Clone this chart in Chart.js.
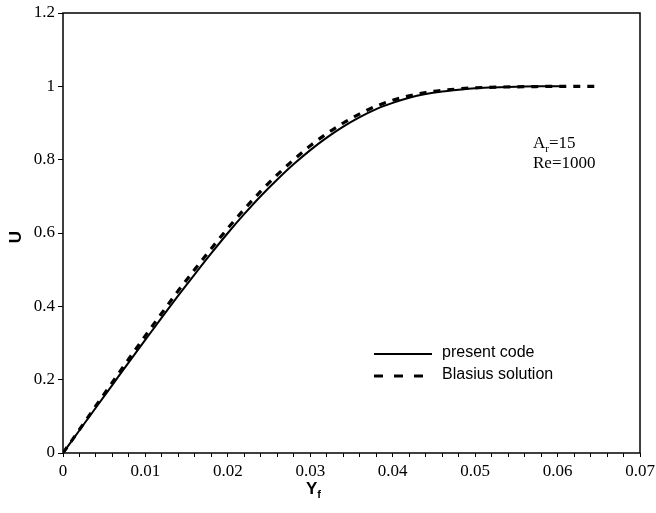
<!DOCTYPE html>
<html><head><meta charset="utf-8">
<script src="https://cdn.jsdelivr.net/npm/chart.js@4"></script>
<style>html,body{margin:0;padding:0;background:#fff}</style>
</head><body>
<canvas id="c" width="656" height="513"></canvas>
<script>
// ---- data ----
const yfPresent = [0,0.002,0.004,0.006,0.008,0.010,0.012,0.014,0.016,0.018,0.020,0.022,0.024,0.026,0.028,0.030,0.032,0.034,0.036,0.038,0.040,0.042,0.044,0.046,0.048,0.050,0.052,0.055,0.058,0.061];
const uPresent  = [0,0.062,0.124,0.186,0.248,0.309,0.370,0.430,0.488,0.545,0.600,0.652,0.701,0.746,0.788,0.826,0.860,0.890,0.916,0.938,0.955,0.969,0.979,0.986,0.991,0.995,0.997,0.999,1.0,1.0];
const yfBlasius = [0,0.002,0.004,0.006,0.008,0.010,0.012,0.014,0.016,0.018,0.020,0.022,0.024,0.026,0.028,0.030,0.032,0.034,0.036,0.038,0.040,0.042,0.044,0.046,0.048,0.050,0.053,0.056,0.060,0.065];
const uBlasius  = [0,0.064,0.129,0.193,0.257,0.320,0.382,0.443,0.501,0.558,0.613,0.665,0.714,0.759,0.800,0.838,0.871,0.900,0.925,0.946,0.962,0.974,0.983,0.989,0.993,0.996,0.998,0.999,1.0,1.0];
const seriesNames = ['present code','Blasius solution'];
const xTickLabels = ['0','0.01','0.02','0.03','0.04','0.05','0.06','0.07'];
const yTickLabels = ['0','0.2','0.4','0.6','0.8','1','1.2'];

const toPts = (xs, ys) => xs.map((x, i) => ({x, y: ys[i]}));
const serif = "'Liberation Serif','Times New Roman',serif";
const sans = "'Liberation Sans',Arial,sans-serif";
const legendDash = [[], [9, 11]];

const extras = {
  id: 'extras',
  afterDraw(chart) {
    const ctx = chart.ctx, a = chart.chartArea;
    ctx.save();
    // frame
    ctx.strokeStyle = '#000'; ctx.lineWidth = 1.5;
    ctx.strokeRect(a.left, a.top, a.right - a.left, a.bottom - a.top);
    ctx.fillStyle = '#000';
    // y title
    ctx.save();
    ctx.translate(16, 237); ctx.rotate(-Math.PI / 2);
    ctx.font = 'bold 17px ' + sans; ctx.textAlign = 'center'; ctx.textBaseline = 'middle';
    ctx.fillText('U', 0, 0);
    ctx.restore();
    // x title Y_f
    ctx.font = 'bold 17px ' + sans; ctx.textAlign = 'left'; ctx.textBaseline = 'alphabetic';
    const xt = 306, yt = 494;
    ctx.fillText('Y', xt, yt);
    const wY = ctx.measureText('Y').width;
    ctx.font = 'bold 11px ' + sans;
    ctx.fillText('f', xt + wY, yt + 4);
    // annotation
    ctx.font = '17px ' + serif;
    ctx.fillText('A', 533, 148);
    const wA = ctx.measureText('A').width;
    ctx.font = '11px ' + serif;
    ctx.fillText('r', 533 + wA, 152);
    const wr = ctx.measureText('r').width;
    ctx.font = '17px ' + serif;
    ctx.fillText('=15', 533 + wA + wr, 148);
    ctx.fillText('Re=1000', 533, 168);
    // legend
    const ds = chart.data.datasets;
    const rows = [354, 376];
    ds.forEach((d, i) => {
      ctx.beginPath();
      ctx.strokeStyle = d.borderColor; ctx.lineWidth = d.borderWidth;
      ctx.setLineDash(legendDash[i]);
      ctx.moveTo(374, rows[i]); ctx.lineTo(432, rows[i]); ctx.stroke();
      ctx.setLineDash([]);
      ctx.font = '16px ' + sans; ctx.textBaseline = 'middle';
      ctx.fillText(d.label, 442, rows[i] - 1);
    });
    ctx.restore();
  }
};

new Chart(document.getElementById('c'), {
  type: 'scatter',
  data: {
    datasets: [
      { label: seriesNames[0], data: toPts(yfPresent, uPresent), showLine: true, pointRadius: 0,
        borderColor: '#000', borderWidth: 2, cubicInterpolationMode: 'monotone', fill: false },
      { label: seriesNames[1], data: toPts(yfBlasius, uBlasius), showLine: true, pointRadius: 0,
        borderColor: '#000', borderWidth: 3.2, borderDash: [7, 7], cubicInterpolationMode: 'monotone', fill: false }
    ]
  },
  options: {
    responsive: false, animation: false,
    layout: { padding: { top: 13, right: 16, left: 0, bottom: 0 } },
    plugins: { legend: { display: false }, tooltip: { enabled: false } },
    scales: {
      x: {
        type: 'linear', min: 0, max: 0.07,
        afterFit(s) { s.height = 60; s.paddingLeft = 0; s.paddingRight = 0; },
        border: { display: false },
        grid: { drawOnChartArea: false, drawTicks: true, tickLength: 4, color: '#000', tickColor: '#000', lineWidth: 1 },
        ticks: {
          stepSize: 0.002, autoSkip: false, maxRotation: 0, padding: 4, color: '#000',
          font: { family: serif, size: 17 },
          callback(v) {
            const k = Math.round(v * 100);
            return Math.abs(v * 100 - k) < 1e-6 ? xTickLabels[k] : '';
          }
        }
      },
      y: {
        type: 'linear', min: 0, max: 1.2,
        afterFit(s) { s.width = 63; s.paddingTop = 0; s.paddingBottom = 0; },
        border: { display: false },
        grid: { drawOnChartArea: false, drawTicks: true, tickLength: 5, color: '#000', tickColor: '#000', lineWidth: 1 },
        ticks: {
          stepSize: 0.2, padding: 3, color: '#000',
          font: { family: serif, size: 17 },
          callback(v) { return yTickLabels[Math.round(v * 5)]; }
        }
      }
    }
  },
  plugins: [extras]
});
</script>
</body></html>
